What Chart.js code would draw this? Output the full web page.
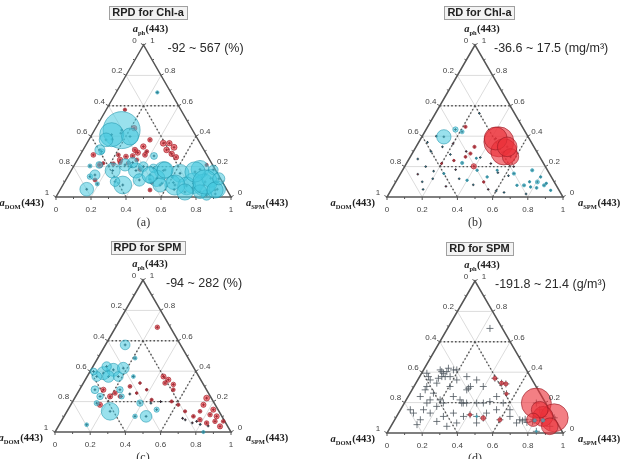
<!DOCTYPE html>
<html><head><meta charset="utf-8">
<script src="https://cdn.jsdelivr.net/npm/chart.js@4.4.0/dist/chart.umd.min.js"></script>
<style>
html,body{margin:0;padding:0;background:#fff;width:620px;height:459px;overflow:hidden;position:relative}
canvas{position:absolute}
</style></head><body>
<canvas id="pa" width="310" height="230" style="left:0;top:0;width:310px;height:230px"></canvas>
<canvas id="pb" width="310" height="230" style="left:310px;top:0;width:310px;height:230px"></canvas>
<canvas id="pc" width="310" height="229" style="left:0;top:230px;width:310px;height:229px"></canvas>
<canvas id="pd" width="310" height="229" style="left:310px;top:230px;width:310px;height:229px"></canvas>
<script>
// ---------- tick labels and zone (dotted) lines, in ternary fractions [ph, spm] ----------
const tickLabels = ['0','0.2','0.4','0.6','0.8','1'];
const tickValues = [0,0.2,0.4,0.6,0.8,1];
const zoneLines = [
  [[0.6,0],[0.6,0.4]],
  [[0.6,0.2],[0.2,0.2]],
  [[0.6,0.2],[0.2,0.6]],
  [[0.2,0.2],[0.2,0.6]],
  [[0.4,0],[0,0.4]],
  [[0.4,0.6],[0,0.6]]
];

// ---------- (a) RPD for Chl-a (%) ----------
const aPh = [.44,.41,.376,.398,.051,.134,.086,.174,.079,.174,.226,.27,.112,.688,.174,.123,.156,.095,.182,.09,.079,.123,.051,.013,.073,.116,.211,.189,.178,.035,.2,.101,.204,.299,
  .145,.178,.079,.165,.099,.046,.033,.079,.12,.211,.31,.145,
  .574,.453,.332,.292,.27,.266,.226,.218,.222,.277,.354,.354,.327,.31,.284,.262,.095,.182,.211,.277,.244,.222,.299,
  .211,.244,.31,.277,.376,.112,.046,
  .06,.1,.15,.02,.2,.38,.42,.13,.05,.09];
const aSpm = [.155,.113,.098,.224,.15,.127,.193,.237,.342,.37,.325,.425,.42,.235,.526,.514,.631,.623,.732,.74,.806,.822,.896,.854,.71,.479,.142,.462,.81,.805,.399,.287,.092,.111,
  .465,.534,.64,.712,.802,.886,.72,.555,.87,.289,.096,.15,
  .107,.22,.333,.321,.303,.267,.253,.219,.302,.075,.436,.471,.511,.477,.519,.555,.5,.389,.755,.218,.339,.159,.369,
  .146,.244,.296,.37,.349,.167,.514,
  .75,.86,.78,.9,.33,.13,.16,.6,.65,.56];
const aVal = [567,368,210,260,210,84,63,231,273,231,158,105,189,52,273,252,273,210,273,315,336,273,252,158,273,126,105,126,147,210,147,147,63,84,
  248,248,310,310,372,248,248,217,186,186,155,155,
  -52,-84,-84,-84,-74,-74,-63,-63,-63,-74,-92,-84,-92,-88,-84,-80,-50,-63,-50,-60,-60,-50,-60,
  -80,-85,-80,-75,-70,-60,-60,
  3,2,-2,3,2,3,2,-2,3,2];

// ---------- (b) RD for Chl-a (mg/m3) ----------
const bPh = [.396,.444,.429,.224,.154,.176,.077,.099,.077,.066,.044,.132,.176,.132,.11,.154,.176,.077,.06,.1,.09,.255,
  .363,.297,.385,.264,.33,.202,.33,.286,.264,.099,.462,.22,.24,
  .55,.3,.25,.2,.15,.1,.05,.35,.28,.18,.12,.08,.05,.03,.16,.22,.36,.4,.3,.14,.02,.04,.2,.12,.33,.26,.07,.17];
const bSpm = [.125,.167,.212,.315,.644,.737,.74,.805,.854,.783,.908,.807,.424,.503,.4,.246,.538,.7,.82,.76,.86,.38,
  .454,.516,.425,.57,.518,.392,.332,.331,.314,.5,.215,.2,.26,
  .25,.1,.05,.12,.1,.15,.18,.2,.22,.3,.35,.45,.55,.65,.55,.48,.05,.08,.3,.62,.78,.6,.62,.2,.15,.4,.3,.18];
const bVal = [17.5,6.5,5,4,4,4,4,5,4,3,3,3,3,3,3,2.5,2.5,3,3.5,3,3,2.5,
  -36.6,-32,-28,-20,-24,-6.5,-4,-4,-3.5,-3,-4,-2.5,-3,
  .5,.5,.5,.5,-.5,.5,.5,-.5,.5,-.5,.5,.5,-.5,.5,.5,-.5,.5,.5,-.5,.5,.5,.5,-.5,.5,.5,.5,-.5,.5];

// ---------- (c) RPD for SPM (%) ----------
const cPh = [.136,.573,.103,.387,.409,.42,.365,.365,.365,.486,.278,.234,.278,.365,.048,.19,.19,.147,.103,.234,0,.431,.398,
  .689,.365,.344,.322,.313,.234,.256,.234,.278,.179,.3,.322,.278,.212,.256,.223,.179,.147,.103,.114,.037,.081,.103,.059,.07,.07,.136,.136,.201,.179,.278,
  .08,.06,.05,.07,.04,.09,.19,.2,.25];
const cSpm = [.245,.112,.466,.081,.127,.178,.055,.121,.177,.212,.088,.139,.23,.263,.156,.142,.388,.504,.403,.262,.843,.078,.02,
  .237,.434,.472,.464,.516,.196,.213,.252,.136,.166,.276,.322,.382,.443,.336,.75,.754,.826,.867,.824,.919,.783,.735,.832,.874,.921,.671,.756,.562,.611,.533,
  .7,.75,.8,.77,.85,.68,.45,.5,.3];
const cVal = [282,156,187,208,208,187,156,187,156,62,125,104,104,62,62,83,104,83,73,83,52,150,110,
  -73,-83,-83,-73,-73,-83,-73,-62,-83,-83,-62,-42,-42,-52,-42,-94,-83,-83,-83,-73,-83,-73,-62,-73,-73,-62,-52,-62,-52,-52,-62,
  -5,-5,5,-5,-5,-5,5,-5,5];

// ---------- (d) RD for SPM (g/m3) ----------
const dPh = [.197,.1,.109,.153,.044,.087,.36,.328,.323,.258,.098,.087,.12,
  .083,.083,.109,.011,
  .393,.404,.371,.328,.349,.284,.262,.218,.197,.175,.197,.087,.055,.131,.131,.306,.349,.284,.295,.306,
  .24,.218,.197,.197,.197,.207,.131,.109,.066,.066,.688,.349,.131,.153,.153,.087,.08,.07,.09,.075,
  .393,.371,.415,.197,.404,.371,
  .306,.24,.218,.153,.153,.109,.044,.076,.197,.306,.24,.197,.109,.066,.371,.415,.426,.415,.36,.371];
const dSpm = [.75,.9,.832,.791,.903,.787,.433,.487,.514,.55,.498,.598,.412,
  .845,.798,.455,.843,
  .124,.138,.126,.119,.071,.075,.133,.193,.222,.195,.128,.146,.143,.085,.18,.205,.222,.311,.315,.321,
  .257,.306,.354,.411,.449,.481,.312,.38,.363,.476,.241,.335,.5,.546,.622,.711,.73,.76,.74,.79,
  .03,.173,.189,.326,.109,.145,
  .073,.069,.136,.056,.131,.266,.318,.245,.335,.394,.503,.562,.644,.703,.268,.17,.136,.095,.112,.05];
const dVal = [-191.8,-179,-128,-107,-107,-85,-26,-26,-26,-21,-30,-26,-21,
  21.4,20,13,13,
  1,-1,1,1,-1,1,-1,1,1,-1,1,1,-1,1,-1,1,1,-1,1,-1,
  1,-1,1,1,-1,1,-1,1,1,-1,1,-1,1,-1,1,-1,-1,-1,1,-1,
  1,-1,1,1,-1,1,
  -1,1,-1,1,1,-1,1,-1,1,-1,1,-1,1,-1,1,-1,1,1,-1,1];

const SQ3 = Math.sqrt(3);
function toXY(ph, spm){ return {x: spm + ph/2, y: ph*SQ3/2}; }

const panels = [
  {key:'a', el:'pa', ph:aPh, spm:aSpm, val:aVal, title:'RPD for Chl-a', range:'-92 ~ 567 (%)', letter:'(a)',
   pad:{left:56,right:79,top:45,bottom:33}, rangeDx:24, rMax:18.5, crossR:1.4, crossW:1, crossColor:'#1c2833'},
  {key:'b', el:'pb', ph:bPh, spm:bSpm, val:bVal, title:'RD for Chl-a', range:'-36.6 ~ 17.5 (mg/m\u00B3)', letter:'(b)',
   pad:{left:77,right:57,top:45,bottom:33}, rangeDx:19, rMax:15, crossR:1.3, crossW:1, crossColor:'#2a3640'},
  {key:'c', el:'pc', ph:cPh, spm:cSpm, val:cVal, title:'RPD for SPM', range:'-94 ~ 282 (%)', letter:'(c)',
   pad:{left:55,right:79,top:50,bottom:27}, rangeDx:23, rMax:8.8, crossR:1.4, crossW:1, crossColor:'#1c2833'},
  {key:'d', el:'pd', ph:dPh, spm:dSpm, val:dVal, title:'RD for SPM', range:'-191.8 ~ 21.4 (g/m\u00B3)', letter:'(d)',
   pad:{left:77,right:57,top:51,bottom:26}, rangeDx:20, rMax:15, crossR:3.5, crossW:0.8, crossColor:'#4f5860'}
];

function drawAxisLabel(ctx, sub, x, y, align){
  const f1 = 'bold italic 10.5px "Liberation Serif", "DejaVu Serif", serif';
  const f2 = 'bold 6.5px "Liberation Serif", "DejaVu Serif", serif';
  const f3 = 'bold 10.5px "Liberation Serif", "DejaVu Serif", serif';
  ctx.font = f1; const w1 = ctx.measureText('a').width;
  ctx.font = f2; const w2 = ctx.measureText(sub).width;
  ctx.font = f3; const w3 = ctx.measureText('(443)').width;
  const tot = w1 + w2 + 0.5 + w3;
  let sx = x;
  if (align === 'right') sx = x - tot; else if (align === 'center') sx = x - tot/2;
  ctx.fillStyle = '#222'; ctx.textAlign = 'left'; ctx.textBaseline = 'alphabetic';
  ctx.font = f1; ctx.fillText('a', sx, y + 4);
  ctx.font = f2; ctx.fillText(sub, sx + w1, y + 6.5);
  ctx.font = f3; ctx.fillText('(443)', sx + w1 + w2 + 0.5, y + 4);
}

function ternaryPlugin(p){
  const getP = (chart) => {
    const xs = chart.scales.x, ys = chart.scales.y;
    return (ph, spm) => { const c = toXY(ph, spm); return [xs.getPixelForValue(c.x), ys.getPixelForValue(c.y)]; };
  };
  const line = (ctx, a, b) => { ctx.beginPath(); ctx.moveTo(a[0], a[1]); ctx.lineTo(b[0], b[1]); ctx.stroke(); };
  return {
    id: 'tern' + p.key,
    beforeDatasetsDraw(chart){
      const ctx = chart.ctx, P = getP(chart);
      ctx.save();
      ctx.strokeStyle = '#dcdcdc'; ctx.lineWidth = 1;
      [0.2,0.4,0.6,0.8].forEach(v => {
        line(ctx, P(v,0), P(v,1-v));
        line(ctx, P(0,v), P(1-v,v));
        line(ctx, P(0,1-v), P(1-v,0));
      });
      ctx.strokeStyle = '#555'; ctx.lineWidth = 1.4; ctx.setLineDash([1.6,2.2]);
      zoneLines.forEach(s => line(ctx, P(s[0][0], s[0][1]), P(s[1][0], s[1][1])));
      ctx.setLineDash([]);
      const A = P(1,0), BL = P(0,0), BR = P(0,1);
      ctx.strokeStyle = '#555'; ctx.lineWidth = 1.5;
      ctx.beginPath(); ctx.moveTo(A[0],A[1]); ctx.lineTo(BL[0],BL[1]); ctx.lineTo(BR[0],BR[1]); ctx.closePath(); ctx.stroke();
      ctx.lineWidth = 1; ctx.strokeStyle = '#555';
      for (let i = 0; i <= 10; i++){
        const v = i/10, len = (i % 2 === 0) ? 3 : 2;
        let q = P(1-v, 0); line(ctx, q, [q[0] - 0.866*len, q[1] - 0.5*len]);
        q = P(v, 1-v); line(ctx, q, [q[0] + 0.866*len, q[1] - 0.5*len]);
        q = P(0, v); line(ctx, q, [q[0], q[1] + len]);
      }
      ctx.restore();
    },
    afterDraw(chart){
      const ctx = chart.ctx, P = getP(chart);
      const A = P(1,0), BL = P(0,0), BR = P(0,1);
      ctx.save();
      ctx.font = '8px "Liberation Sans", Arial, sans-serif'; ctx.fillStyle = '#444';
      ctx.textAlign = 'center'; ctx.textBaseline = 'middle';
      tickValues.forEach((v, i) => {
        let q = P(1-v, 0); ctx.fillText(tickLabels[i], q[0] - 9, q[1] - 4.5);
        q = P(v, 1-v); ctx.fillText(tickLabels[i], q[0] + 9, q[1] - 4.5);
        q = P(0, v); ctx.fillText(tickLabels[i], q[0], q[1] + 12.3);
      });
      drawAxisLabel(ctx, 'ph', A[0] + 7, A[1] - 17, 'center');
      drawAxisLabel(ctx, 'DOM', BL[0] - 12, BL[1] + 5, 'right');
      drawAxisLabel(ctx, 'SPM', BR[0] + 15, BR[1] + 5, 'left');
      ctx.font = 'bold 11px "Liberation Sans", Arial, sans-serif';
      const tw = ctx.measureText(p.title).width;
      const cx = A[0] + 4.5, cy = A[1] - 32.5;
      ctx.fillStyle = '#f3f3f3'; ctx.strokeStyle = '#a0a0a0'; ctx.lineWidth = 1;
      ctx.fillRect(Math.round(cx - tw/2 - 3) + 0.5, Math.round(cy - 6.5) + 0.5, Math.round(tw + 6), 13);
      ctx.strokeRect(Math.round(cx - tw/2 - 3) + 0.5, Math.round(cy - 6.5) + 0.5, Math.round(tw + 6), 13);
      ctx.fillStyle = '#222'; ctx.textAlign = 'center'; ctx.textBaseline = 'middle';
      ctx.fillText(p.title, cx, cy + 0.5);
      ctx.font = '12.5px "Liberation Sans", Arial, sans-serif'; ctx.fillStyle = '#2a2a2a';
      ctx.textAlign = 'left'; ctx.textBaseline = 'middle';
      ctx.fillText(p.range, A[0] + p.rangeDx, A[1] + 3.5);
      ctx.font = '12px "Liberation Serif", "DejaVu Serif", serif'; ctx.fillStyle = '#333';
      ctx.textAlign = 'center';
      ctx.fillText(p.letter, (BL[0] + BR[0]) / 2, BL[1] + 26);
      ctx.restore();
    }
  };
}

function makeChart(p){
  const pos = [], neg = [], cross = [];
  const n = Math.min(p.ph.length, p.spm.length, p.val.length);
  let maxAbs = 0;
  for (let i = 0; i < n; i++) maxAbs = Math.max(maxAbs, Math.abs(p.val[i]));
  for (let i = 0; i < n; i++){
    const c = toXY(p.ph[i], p.spm[i]);
    const r = Math.abs(p.val[i]) * p.rMax / maxAbs;
    (p.val[i] >= 0 ? pos : neg).push({x: c.x, y: c.y, r: r});
    cross.push({x: c.x, y: c.y});
  }
  new Chart(document.getElementById(p.el), {
    type: 'bubble',
    data: { datasets: [
      { data: pos, backgroundColor: 'rgba(70,200,222,0.55)', borderColor: 'rgba(35,150,175,0.7)', borderWidth: 0.8, clip: false },
      { data: neg, backgroundColor: 'rgba(236,48,56,0.62)', borderColor: 'rgba(150,25,35,0.75)', borderWidth: 0.8, clip: false },
      { type: 'scatter', data: cross, pointStyle: 'cross', pointRadius: p.crossR, pointBorderColor: p.crossColor,
        pointBorderWidth: p.crossW, pointBackgroundColor: p.crossColor, showLine: false, clip: false }
    ]},
    options: {
      responsive: false, animation: false, events: [],
      layout: { padding: p.pad },
      plugins: { legend: { display: false }, tooltip: { enabled: false }, title: { display: false } },
      scales: {
        x: { type: 'linear', min: 0, max: 1, display: false },
        y: { type: 'linear', min: 0, max: SQ3/2, display: false }
      }
    },
    plugins: [ternaryPlugin(p)]
  });
}
panels.forEach(makeChart);
</script>
</body></html>
